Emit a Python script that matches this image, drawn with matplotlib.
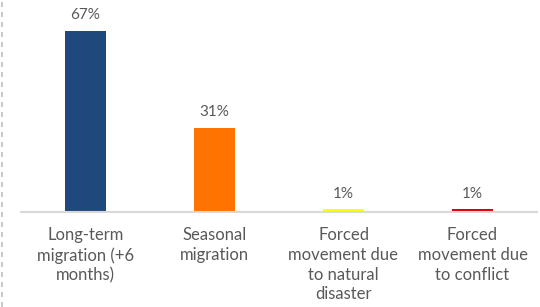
import matplotlib.pyplot as plt
from matplotlib.lines import Line2D

categories = ["Long-term\nmigration (+6\nmonths)", "Seasonal\nmigration",
              "Forced\nmovement due\nto natural\ndisaster", "Forced\nmovement due\nto conflict"]
values = [67, 31, 1, 1]
labels = ["67%", "31%", "1%", "1%"]
colors = ["#1f497d", "#ff7300", "#ffff00", "#e00000"]

plt.rcParams['font.family'] = ['Lato', 'DejaVu Sans']
text_color = "#595959"

fig = plt.figure(figsize=(5.4, 3.07), dpi=100)
ax = fig.add_axes([21 / 540, (307 - 212) / 307, 516 / 540, 212 / 307])

x = range(len(categories))
ax.bar(x, values, width=0.318, color=colors)
for i, v in enumerate(values):
    ax.text(i, v + 3.2, labels[i], ha="center", va="bottom", fontsize=11, color=text_color)

ax.set_xlim(-0.5, len(categories) - 0.5)
ax.set_ylim(0, 78.3)
ax.set_yticks([])
ax.set_xticks(list(x))
ax.set_xticklabels(categories, fontsize=12, color=text_color, linespacing=1.28)
ax.tick_params(axis="x", length=0, pad=11)
for s in ["top", "right", "left"]:
    ax.spines[s].set_visible(False)
ax.spines["bottom"].set_color("#d9d9d9")
ax.spines["bottom"].set_linewidth(1.5)

# dashed border on the left edge
fig.add_artist(Line2D([1.5 / 540, 1.5 / 540], [0, 1], transform=fig.transFigure,
                      color="#bfbfbf", linestyle=(0, (3, 3)), linewidth=1.2))

fig.savefig("out.png", dpi=100)
